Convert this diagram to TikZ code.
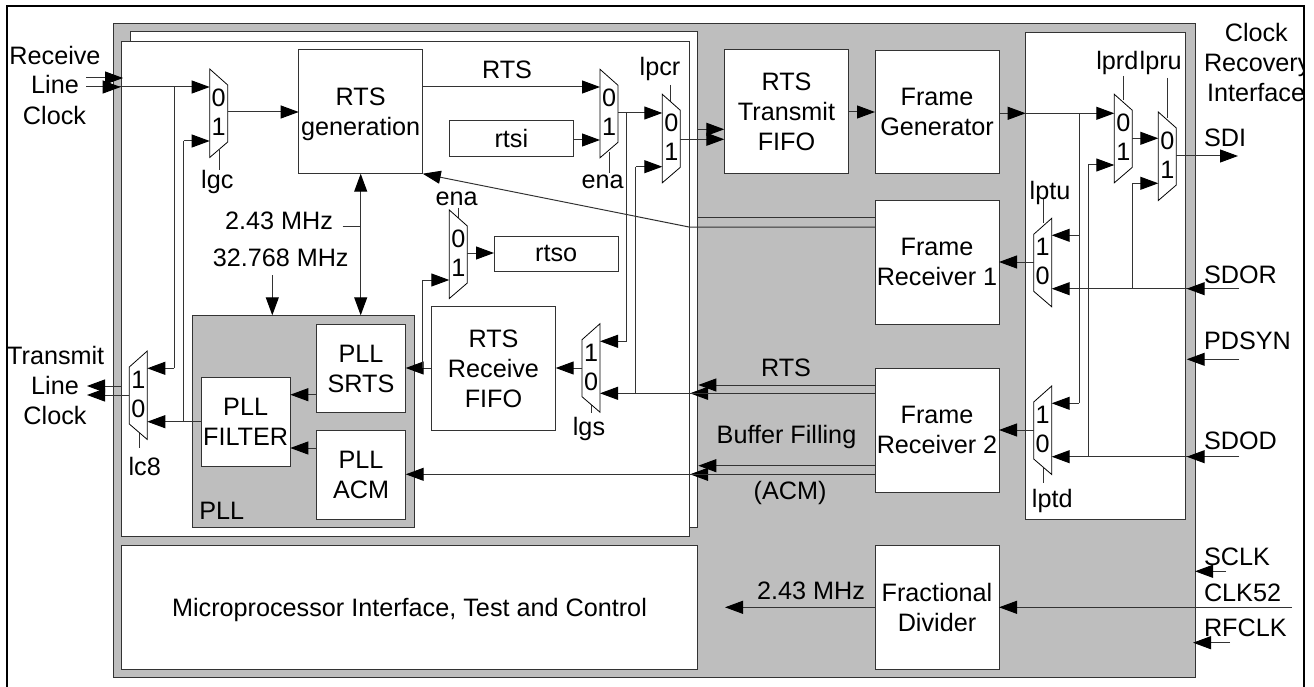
\documentclass[tikz,border=0pt]{standalone}
\usepackage{fontspec}
\setmainfont{Liberation Sans}
\usetikzlibrary{arrows.meta}
\definecolor{panelgrey}{gray}{0.745}
\colorlet{wire}{black!80}
\tikzset{
  x=1pt,y=-1pt,
  every node/.style={font=\fontsize{25.2}{30}\selectfont,inner sep=0pt,outer sep=0pt,align=center},
  blockbox/.style={draw=wire,line width=1pt,fill=white,text depth=0pt},
  panelbox/.style={draw=wire,line width=1pt,fill=panelgrey},
  muxshape/.style={draw=black,line width=0.8pt,fill=white},
  wireline/.style={draw=wire,line width=1pt},
  arr/.style={wireline,-{Triangle[length=18pt,width=13pt,color=black]}},
  arrboth/.style={wireline,{Triangle[length=18pt,width=13pt,color=black]}-{Triangle[length=18pt,width=13pt,color=black]}},
  stub/.style={draw=wire,line width=0.8pt},
}
% name, x1,y1,x2,y2, style, text
\newcommand{\bx}[7]{\node[#6,minimum width={(#4-#2)*1pt},minimum height={(#5-#3)*1pt}] (#1) at ({(#2+#4)/2},{(#3+#5)/2}) {#7};}
% right-narrowing mux: name, x, top, ya, yb, yo
\newcommand{\muxR}[6]{%
  \draw[muxshape] (#2,#3) -- ({#2+18},{#3+16}) -- ({#2+18},{#3+73}) -- (#2,{#3+88.5}) -- cycle;
  \coordinate (#1a) at (#2,#4); \coordinate (#1b) at (#2,#5); \coordinate (#1o) at ({#2+18},#6);
  \node (#1zero) at ({#2+9},{#3+29}) {0};
  \node (#1one) at ({#2+9},{#3+58}) {1};}
% left-narrowing mux: name, x, top, ya(upper), yb(lower), yo
\newcommand{\muxL}[6]{%
  \draw[muxshape] ({#2+18},#3) -- (#2,{#3+16}) -- (#2,{#3+73}) -- ({#2+18},{#3+88.5}) -- cycle;
  \coordinate (#1a) at ({#2+18},#4); \coordinate (#1b) at ({#2+18},#5); \coordinate (#1o) at (#2,#6);
  \node (#1one) at ({#2+9},{#3+29}) {1};
  \node (#1zero) at ({#2+9},{#3+58}) {0};}
\begin{document}
\begin{tikzpicture}
\useasboundingbox (0,0) rectangle (1314,687);
% panels
\bx{chip}{113}{24}{1195}{677.7}{panelbox}{}
\bx{backp}{130}{32}{697.7}{527.3}{blockbox}{}
\bx{frontp}{121.3}{41.5}{689.3}{536.7}{blockbox}{}
\bx{crif}{1025.7}{32.7}{1185.3}{519}{blockbox}{}
\bx{pll}{192.7}{315.3}{414}{527.7}{panelbox}{}
% blocks
\bx{rtsgen}{298.7}{50}{422.7}{173.7}{blockbox}{RTS\\generation}
\bx{rtsi}{449.3}{121}{573.3}{156.3}{blockbox}{rtsi}
\bx{rtso}{494}{236}{618.3}{271.3}{blockbox}{rtso}
\bx{txfifo}{724.3}{50}{848.7}{173.7}{blockbox}{RTS\\Transmit\\FIFO}
\bx{fgen}{875}{50.3}{999}{173.7}{blockbox}{Frame\\Generator}
\bx{frx1}{875}{200.3}{999}{324}{blockbox}{Frame\\Receiver 1}
\bx{frx2}{875}{368.3}{999}{492.3}{blockbox}{Frame\\Receiver 2}
\bx{rxfifo}{431.3}{306.3}{555.7}{430.3}{blockbox}{RTS\\Receive\\FIFO}
\bx{srts}{316.3}{324.3}{405.7}{412.7}{blockbox}{PLL\\SRTS}
\bx{filter}{201}{377.3}{290.3}{466}{blockbox}{PLL\\FILTER}
\bx{acm}{316.3}{430.3}{405.7}{519}{blockbox}{PLL\\ACM}
\bx{micro}{121.3}{545.3}{697.7}{669}{blockbox}{Microprocessor Interface, Test and Control}
\bx{fdiv}{875}{545.3}{999}{669}{blockbox}{Fractional\\Divider}
% stubs (drawn before muxes)
\coordinate (sgcA) at (219,150); \coordinate (sgcB) at (219,170);
\coordinate (sc8A) at (139,430); \coordinate (sc8B) at (139,448);
\coordinate (senA) at (609.3,152); \coordinate (senB) at (609.3,173);
\coordinate (spcA) at (670.7,85); \coordinate (spcB) at (670.7,102);
\coordinate (selA) at (458,208); \coordinate (selB) at (458,218);
\coordinate (sgsA) at (591.7,405); \coordinate (sgsB) at (591.7,413);
\coordinate (srdA) at (1123.3,76); \coordinate (srdB) at (1123.3,100);
\coordinate (sruA) at (1167.3,78); \coordinate (sruB) at (1167.3,118);
\coordinate (stuA) at (1043.3,198); \coordinate (stuB) at (1043.3,223);
\coordinate (stdA) at (1043.3,468); \coordinate (stdB) at (1043.3,483);
\foreach \s in {sgc,sc8,sen,spc,sel,sgs,srd,sru,stu,std} \draw[stub] (\s A) -- (\s B);
% muxes
\muxR{lgc}{209.7}{69}{87}{141}{112}
\muxR{ena}{600}{69.3}{87}{140}{113}
\muxR{lpcr}{662.3}{94.3}{113}{166.7}{139.3}
\muxR{enb}{449.3}{210}{0}{280}{253}
\muxL{lgs}{582}{323.7}{341.3}{393.3}{368}
\muxL{lce}{129.3}{351}{368.3}{421.7}{386}
\muxR{lprd}{1114.3}{94.3}{113.3}{165}{138.3}
\muxR{lpru}{1158.3}{112}{138.3}{183.3}{156}
\muxL{lptu}{1033.7}{218.3}{235.3}{288.7}{262}
\muxL{lptd}{1033.7}{386}{403.3}{456.7}{430}
% free ends and labels
\coordinate (rxa) at (86,78); \coordinate (rxat) at (123,78);
\coordinate (rxb) at (86,87); \coordinate (rxbt) at (120.7,87);
\coordinate (txa) at (121.5,386); \coordinate (txat) at (87,386);
\coordinate (txb) at (129.3,395); \coordinate (txbt) at (87,395);
% receive clock
\draw[arr] (rxa) -- (rxat);
\draw[arr] (rxb) -- (lgca);
\draw[arr] (rxb) -- (rxbt);
\draw[arr] (lgco) -- (rtsgen.west |- lgco);
\draw[wireline] (174.3,87) -- (174.3,368.3);
\draw[arr] (174.3,368.3) -- (lcea);
\draw[wireline] (183.7,421.7) -- (183.7,141);
\draw[arr] (183.7,141) -- (lgcb);
\draw[arr] (filter.west |- lceb) -- (lceb);
\draw[arr] (txa) -- (txat);
\draw[arr] (txb) -- (txbt);
% rts path
\draw[arr] (rtsgen.east |- enaa) -- (enaa);
\draw[arr] (rtsi.east |- enab) -- (enab);
\draw[arr] (enao) -- (lpcra);
\draw[wireline] (626.7,113) -- (626.7,341.3);
\draw[arr] (626.7,341.3) -- (lgsa);
\draw[wireline] (635.7,393.3) -- (635.7,166.7);
\draw[arr] (635.7,166.7) -- (lpcrb);
\draw[arr] (697,129.3) -- (txfifo.west |- 0,129.3);
\draw[arr] (lpcro) -- (txfifo.west |- lpcro);
\draw[arr] (txfifo.east |- 0,112) -- (fgen.west |- 0,112);
\draw[arr] (fgen.east |- lprda) -- (crif.west |- lprda);
\draw[arr] (crif.west |- lprda) -- (lprda);
\draw[arr] (lprdo) -- (lprua);
\draw[arr] (lpruo) -- (1238,156);
\draw[wireline] (1079,113.3) -- (1079,403.3);
\draw[arr] (1079,403.3) -- (lptda);
\draw[arr] (1079,235.3) -- (lptua);
\draw[wireline] (1088,456.7) -- (1088,165);
\draw[arr] (1088,165) -- (lprdb);
\draw[wireline] (1132.3,288.7) -- (1132.3,183.3);
\draw[arr] (1132.3,183.3) -- (lprub);
% right inputs
\coordinate (sdor) at (1239,288.7); \coordinate (sdort) at (1186.7,288.7);
\coordinate (pds) at (1239,359.3); \coordinate (pdst) at (1186.7,359.3);
\coordinate (sdod) at (1239,456.7); \coordinate (sdodt) at (1186.7,456.7);
\draw[arr] (sdor) -- (lptub); \draw[arr] (sdor) -- (sdort);
\draw[arr] (pds) -- (pdst);
\draw[arr] (sdod) -- (lptdb); \draw[arr] (sdod) -- (sdodt);
\coordinate (sclk) at (1226,571.3); \coordinate (sclkt) at (1195,571.3);
\coordinate (ck52) at (1292,607.3);
\coordinate (rfck) at (1230,642.7); \coordinate (rfckt) at (1193,642.7);
\draw[arr] (sclk) -- (sclkt);
\draw[arr] (ck52) -- (fdiv.east |- ck52);
\draw[arr] (rfck) -- (rfckt);
\draw[arr] (fdiv.west |- ck52) -- (725,607.3);
% receivers
\draw[arr] (lptuo) -- (frx1.east |- lptuo);
\draw[arr] (lptdo) -- (frx2.east |- lptdo);
\draw[wireline] (frx1.west |- 0,217.7) -- (697,217.7);
\draw[arr] (frx1.west |- 0,227) -- (689,227) -- (rtsgen.south east);
\draw[arr] (frx2.west |- 0,385) -- (698.3,385);
\draw[arr] (frx2.west |- lgsb) -- (690,393.3);
\draw[arr] (frx2.west |- lgsb) -- (lgsb);
\draw[arr] (frx2.west |- 0,465.7) -- (698.3,465.7);
\draw[arr] (frx2.west |- 0,474.3) -- (690,474.3);
\draw[arr] (frx2.west |- 0,474.3) -- (acm.east |- 0,474.3);
% rx fifo / pll
\draw[arr] (lgso) -- (rxfifo.east |- lgso);
\draw[arr] (rxfifo.west |- lgso) -- (srts.east |- lgso);
\draw[wireline] (422.7,368) -- (422.7,280);
\draw[arr] (422.7,280) -- (enbb);
\draw[arr] (enbo) -- (rtso.west |- enbo);
\draw[arr] (srts.west |- 0,394.7) -- (filter.east |- 0,394.7);
\draw[arr] (acm.west |- 0,448) -- (filter.east |- 0,448);
\draw[arrboth] (rtsgen.south) -- (rtsgen.south |- pll.north);
\coordinate (mhzA) at (342.7,226.7);
\draw[wireline] (mhzA) -- (rtsgen.south |- mhzA);
\coordinate (mhzB) at (272.3,275);
\draw[arr] (mhzB) -- (mhzB |- pll.north);
% labels
\node (lrcv) at (55,55) {Receive};
\node (lrln) at (55,84) {Line};
\node (lrck) at (54.5,115) {Clock};
\node (ltrn) at (55.7,355.7) {Transmit};
\node (ltln) at (55,385.7) {Line};
\node (ltck) at (55,415) {Clock};
\node (tlgc) at (217.3,181.7) {lgc};
\node (tlc8) at (144.7,466.7) {lc8};
\node (tena) at (602.7,181.7) {ena};
\node (tlpcr) at (660,68.5) {lpcr};
\node (tenb) at (456.7,199.3) {ena};
\node (tlgs) at (589,429) {lgs};
\node (tlprd) at (1117.3,63) {lprd};
\node (tlpru) at (1160.7,63) {lpru};
\node (tlptu) at (1050,192.7) {lptu};
\node (tlptd) at (1052.3,500.7) {lptd};
\node (trts) at (507,70) {RTS};
\node (tmhza) at (279,220.7) {2.43 MHz};
\node (tmhzb) at (280.7,258.3) {32.768 MHz};
\node (tpll) at (221.7,511) {PLL};
\node (trtsb) at (786,368.3) {RTS};
\node (tbuf) at (786.5,437.3) {Buffer Filling};
\node (tacm) at (790,492.7) {(ACM)};
\node (tmhzc) at (811,591) {2.43 MHz};
\node (tclk) at (1256.3,32.7) {Clock};
\node[anchor=west] (trec) at (1204,65) {Recovery};
\node[anchor=west] (tint) at (1207,92.7) {Interface};
\node[anchor=west] (tsdi) at (1204,138) {SDI};
\node[anchor=west] (tsdor) at (1204,275) {SDOR};
\node[anchor=west] (tpds) at (1204,340.7) {PDSYN};
\node[anchor=west] (tsdod) at (1204,441) {SDOD};
\node[anchor=west] (tsclk) at (1204,557.3) {SCLK};
\node[anchor=west] (tck52) at (1204,593) {CLK52};
\node[anchor=west] (trfck) at (1204,628) {RFCLK};
% frame
\fill[white] (1305,0) rectangle (1314,687);
\draw[black,line width=2pt] (7,687) -- (7,6) -- (1304.3,6) -- (1304.3,687);
\end{tikzpicture}
\end{document}
